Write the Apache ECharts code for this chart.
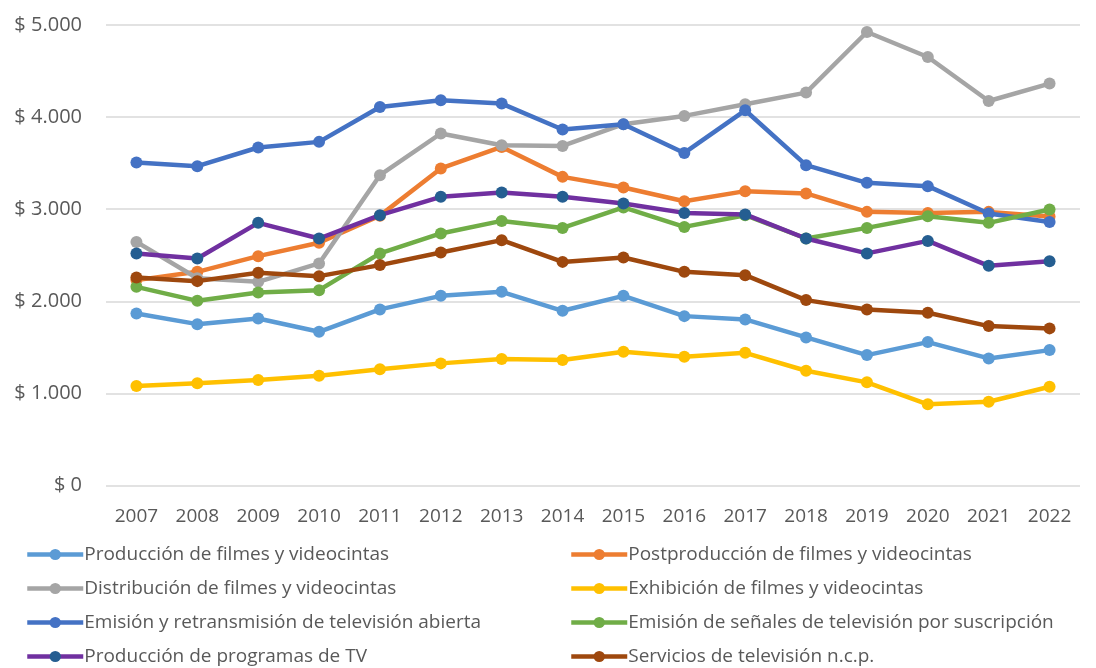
<!DOCTYPE html>
<html>
<head>
<meta charset="utf-8">
<script src="https://cdn.jsdelivr.net/npm/echarts@6/dist/echarts.min.js"></script>
<style>html,body{margin:0;padding:0;background:#fff}#c{width:1096px;height:668px}</style>
</head>
<body>
<div id="c"></div>
<script>
const years = ['2007','2008','2009','2010','2011','2012','2013','2014','2015','2016','2017','2018','2019','2020','2021','2022'];
const yTicks = [0, 1000, 2000, 3000, 4000, 5000];

const produccionFilmes    = [1868,1752,1814,1669,1912,2059,2103,1897,2059,1839,1803,1608,1416,1557,1380,1470];
const postproduccion      = [2230,2320,2490,2635,2930,3442,3676,3351,3236,3087,3196,3171,2971,2960,2971,2920];
const distribucion        = [2645,2250,2211,2411,3369,3822,3695,3687,3923,4013,4140,4266,4924,4653,4175,4364];
const exhibicion          = [1080,1109,1145,1191,1261,1326,1373,1362,1452,1398,1441,1246,1120,881,909,1072];
const emisionAbierta      = [3507,3467,3670,3731,4110,4183,4147,3865,3923,3611,4074,3478,3286,3250,2954,2862];
const emisionSuscripcion  = [2157,2005,2096,2121,2520,2737,2873,2797,3019,2808,2935,2682,2797,2924,2852,2997];
const programasTV         = [2520,2465,2852,2682,2935,3134,3181,3134,3062,2960,2943,2682,2520,2656,2385,2436];
const serviciosTV         = [2259,2219,2309,2273,2393,2530,2664,2428,2476,2320,2284,2013,1912,1875,1731,1706];

const names = [
  'Producción de filmes y videocintas',
  'Postproducción de filmes y videocintas',
  'Distribución de filmes y videocintas',
  'Exhibición de filmes y videocintas',
  'Emisión y retransmisión de televisión abierta',
  'Emisión de señales de televisión por suscripción',
  'Producción de programas de TV',
  'Servicios de televisión n.c.p.'
];
const values = [produccionFilmes, postproduccion, distribucion, exhibicion, emisionAbierta, emisionSuscripcion, programasTV, serviciosTV];
const lineColors = ['#5B9BD5','#ED7D31','#A5A5A5','#FFC000','#4472C4','#70AD47','#7030A0','#9E480E'];
const markColors = ['#5B9BD5','#ED7D31','#A5A5A5','#FFC000','#4472C4','#70AD47','#255E91','#9E480E'];

const FONT = 'Open Sans';
const TXT = '#595959';

function fmt(v){
  return '$ ' + String(v).replace(/\B(?=(\d{3})+(?!\d))/g, '.');
}

const series = names.map((n,i)=>({
  name: n,
  type: 'line',
  data: values[i],
  symbol: 'circle',
  symbolSize: 12,
  lineStyle: {width: 4.5, color: lineColors[i]},
  itemStyle: {color: markColors[i]},
  color: lineColors[i],
  animation: false,
  z: 2 + i
}));

const legendCommon = {
  orient: 'vertical',
  padding: 0,
  height: 123,
  itemWidth: 56,
  itemHeight: 14,
  itemGap: 15,
  lineStyle: {width: 4.5},
  textStyle: {fontFamily: FONT, fontSize: 19, color: TXT, padding: [0,0,0,-4]}
};

const chart = echarts.init(document.getElementById('c'), null, {renderer:'canvas'});
chart.setOption({
  backgroundColor: '#fff',
  animation: false,
  grid: {left: 106, right: 16, top: 25, bottom: 182.5, containLabel: false},
  xAxis: {
    type: 'category',
    data: years,
    boundaryGap: true,
    axisLine: {show: false},
    axisTick: {show: false},
    axisLabel: {fontFamily: FONT, fontSize: 19, color: TXT, margin: 22}
  },
  yAxis: {
    type: 'value',
    min: yTicks[0],
    max: yTicks[yTicks.length-1],
    interval: 1000,
    axisLine: {show: false},
    axisTick: {show: false},
    splitLine: {lineStyle: {color: '#D9D9D9', width: 1.5}},
    axisLabel: {fontFamily: FONT, fontSize: 20, color: TXT, margin: 24, formatter: fmt}
  },
  legend: [
    Object.assign({left: 25, top: 545, data: [names[0], names[2], names[4], names[6]]}, legendCommon),
    Object.assign({left: 569, top: 545, data: [names[1], names[3], names[5], names[7]]}, legendCommon)
  ],
  series: series
});
</script>
</body>
</html>
